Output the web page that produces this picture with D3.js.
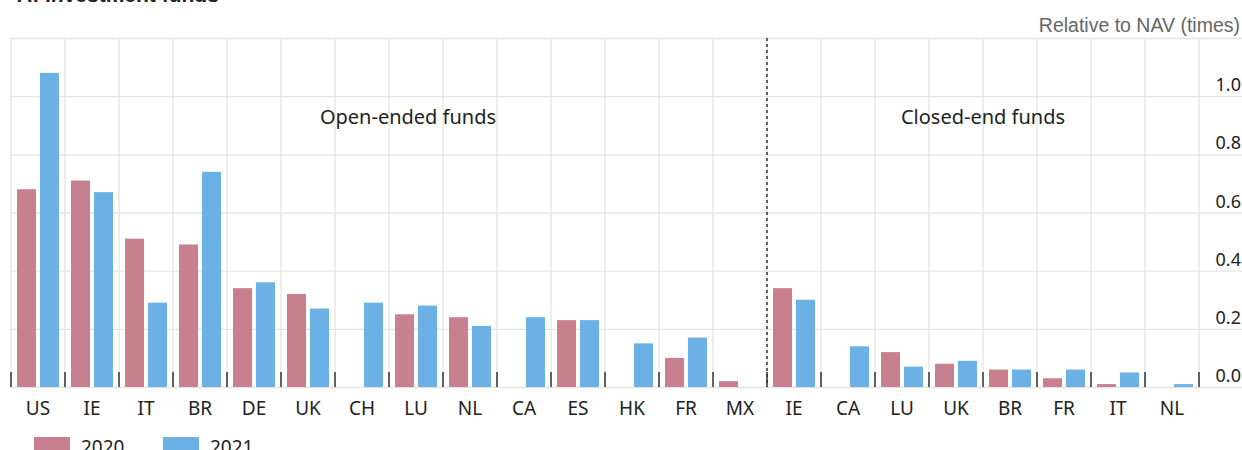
<!DOCTYPE html>
<html>
<head>
<meta charset="utf-8">
<script src="https://cdn.jsdelivr.net/npm/d3@7"></script>
<style>
  body { margin: 0; background: #fff; }
  svg { display: block; }
  text { font-family: "Noto Sans", "Open Sans", sans-serif; fill: #222; }
</style>
</head>
<body>
<svg></svg>
<script>
// data
const openCountries = ['US', 'IE', 'IT', 'BR', 'DE', 'UK', 'CH', 'LU', 'NL', 'CA', 'ES', 'HK', 'FR', 'MX'];
const closedCountries = ['IE', 'CA', 'LU', 'UK', 'BR', 'FR', 'IT', 'NL'];
const open2020 = [0.68, 0.71, 0.51, 0.49, 0.34, 0.32, null, 0.25, 0.24, null, 0.23, null, 0.10, 0.02];
const open2021 = [1.08, 0.67, 0.29, 0.74, 0.36, 0.27, 0.29, 0.28, 0.21, 0.24, 0.23, 0.15, 0.17, null];
const closed2020 = [0.34, null, 0.12, 0.08, 0.06, 0.03, 0.01, null];
const closed2021 = [0.30, 0.14, 0.07, 0.09, 0.06, 0.06, 0.05, 0.01];
const yTicks = [0, 0.2, 0.4, 0.6, 0.8, 1.0];
const seriesNames = ['2020', '2021'];
const colors = ['#c8808f', '#6cb1e5'];

const size = {w: 1242, h: 450};
const plot = {l: 11, r: 1199, t: 38, b: 387};

const svg = d3.select('svg')
    .attr('width', size.w)
    .attr('height', size.h);

// build rows
let rows = [];
openCountries.forEach((c, i) => rows.push({key: 'o-' + c, label: c, v: [open2020[i], open2021[i]]}));
closedCountries.forEach((c, i) => rows.push({key: 'c-' + c, label: c, v: [closed2020[i], closed2021[i]]}));

let x = d3.scaleBand()
    .domain(rows.map(d => d.key))
    .range([plot.l, plot.r]);

let xInner = d3.scaleBand()
    .domain([0, 1])
    .range([6, x.bandwidth() - 6])
    .paddingInner(0.17);

let y = d3.scaleLinear()
    .domain([0, 1.2])
    .range([plot.b, plot.t]);

// title (cut off by the frame)
svg.append('text')
    .attr('x', 17)
    .attr('y', 2)
    .style('font-family', 'Liberation Sans, Arial, sans-serif')
    .style('font-weight', 'bold')
    .style('font-size', '21px')
    .text('A: Investment funds');

// grid
const grid = svg.append('g');
grid.selectAll('line.h')
    .data(yTicks.concat([1.2]))
    .join('line')
    .attr('x1', plot.l)
    .attr('x2', size.w)
    .attr('y1', d => y(d) + 0.5)
    .attr('y2', d => y(d) + 0.5)
    .attr('stroke', '#e4e4e4')
    .attr('stroke-width', 1.3);

let bounds = rows.map(d => x(d.key)).concat([plot.r]);
grid.selectAll('line.v')
    .data(bounds)
    .join('line')
    .attr('x1', d => d)
    .attr('x2', d => d)
    .attr('y1', plot.t)
    .attr('y2', plot.b)
    .attr('stroke', '#e4e4e4')
    .attr('stroke-width', 1.3);

// bars
const barsG = svg.append('g');
barsG.selectAll('g')
    .data(rows)
    .join('g')
    .attr('transform', d => `translate(${x(d.key)},0)`)
    .selectAll('rect')
    .data(d => d.v.map((v, i) => ({v: v, i: i})).filter(e => e.v != null))
    .join('rect')
    .attr('x', d => xInner(d.i))
    .attr('width', xInner.bandwidth())
    .attr('y', d => y(d.v))
    .attr('height', d => y(0) - y(d.v))
    .attr('fill', d => colors[d.i]);

// ticks at category boundaries
svg.append('g').selectAll('line')
    .data(bounds)
    .join('line')
    .attr('x1', d => d)
    .attr('x2', d => d)
    .attr('y1', plot.b - 15)
    .attr('y2', plot.b)
    .attr('stroke', '#333')
    .attr('stroke-width', 1.5);

// separator between open and closed funds
let sepX = x('c-' + closedCountries[0]);
svg.append('line')
    .attr('x1', sepX)
    .attr('x2', sepX)
    .attr('y1', plot.t)
    .attr('y2', plot.b)
    .attr('stroke', '#333')
    .attr('stroke-width', 1.5)
    .attr('stroke-dasharray', '3,3');

// category labels
svg.append('g').selectAll('text')
    .data(rows)
    .join('text')
    .attr('x', d => x(d.key) + x.bandwidth() / 2)
    .attr('y', 415)
    .attr('text-anchor', 'middle')
    .style('font-size', '19px')
    .text(d => d.label);

// y tick labels on the right, above grid lines
svg.append('g').selectAll('text')
    .data(yTicks)
    .join('text')
    .attr('x', 1241)
    .attr('y', d => y(d) - 5)
    .attr('text-anchor', 'end')
    .style('font-size', '18px')
    .text(d => d.toFixed(1));

svg.append('text')
    .attr('x', 1240)
    .attr('y', 32)
    .attr('text-anchor', 'end')
    .style('font-family', 'Liberation Sans, Arial, sans-serif')
    .style('font-size', '19.5px')
    .style('fill', '#666')
    .text('Relative to NAV (times)');

// group annotations
let openMid = (plot.l + sepX) / 2 + 19;
let closedMid = (sepX + plot.r) / 2;
svg.append('text')
    .attr('x', openMid)
    .attr('y', 124)
    .attr('text-anchor', 'middle')
    .style('font-size', '20px')
    .text('Open-ended funds');
svg.append('text')
    .attr('x', closedMid)
    .attr('y', 124)
    .attr('text-anchor', 'middle')
    .style('font-size', '20px')
    .text('Closed-end funds');

// legend
let legend = svg.append('g').selectAll('g')
    .data(seriesNames)
    .join('g')
    .attr('transform', (d, i) => `translate(${34 + i * 129},437)`);
legend.append('rect')
    .attr('width', 36)
    .attr('height', 16)
    .attr('fill', (d, i) => colors[i]);
legend.append('text')
    .attr('x', 47)
    .attr('y', 17)
    .style('font-size', '19px')
    .text(d => d);
</script>
</body>
</html>
